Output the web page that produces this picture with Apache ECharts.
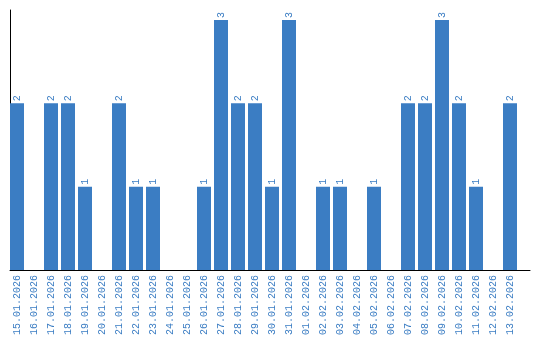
<!DOCTYPE html>
<html><head><meta charset="utf-8">
<script src="https://cdn.jsdelivr.net/npm/echarts@6/dist/echarts.min.js"></script>
<style>html,body{margin:0;padding:0;background:#fff}#c{width:540px;height:340px}</style>
</head><body><div id="c"></div>
<script>
const categories = ["15.01.2026","16.01.2026","17.01.2026","18.01.2026","19.01.2026","20.01.2026","21.01.2026","22.01.2026","23.01.2026","24.01.2026","25.01.2026","26.01.2026","27.01.2026","28.01.2026","29.01.2026","30.01.2026","31.01.2026","01.02.2026","02.02.2026","03.02.2026","04.02.2026","05.02.2026","06.02.2026","07.02.2026","08.02.2026","09.02.2026","10.02.2026","11.02.2026","12.02.2026","13.02.2026"];
const values = [2,0,2,2,1,0,2,1,1,0,0,1,3,2,2,1,3,0,1,1,0,1,0,2,2,3,2,1,0,2];
const yMax = 3.12;

const blue = '#3b7dc3';
const font = 'Liberation Mono';
const chart = echarts.init(document.getElementById('c'), null, {renderer:'canvas'});
chart.setOption({
  animation:false,
  grid:[
    {left:8.5, top:10, width:510, height:260},
    {left:10, top:10, right:10, height:260}
  ],
  xAxis:[
    {type:'category', gridIndex:0, data:categories,
     axisLine:{show:false}, axisTick:{show:false},
     axisLabel:{rotate:90, interval:0, color:blue, fontFamily:font, fontSize:10, margin:5}},
    {type:'value', gridIndex:1, min:0, max:1, axisLine:{show:true, onZero:false, lineStyle:{color:'#000', width:1}},
     axisTick:{show:false}, axisLabel:{show:false}, splitLine:{show:false}}
  ],
  yAxis:[
    {type:'value', gridIndex:0, min:0, max:yMax, offset:-1.5,
     axisLine:{show:true, lineStyle:{color:'#000', width:1}}, axisTick:{show:false}, axisLabel:{show:false}, splitLine:{show:false}},
    {type:'value', gridIndex:1, show:false}
  ],
  series:[{
    type:'bar', data:values, barWidth:14, itemStyle:{color:blue},
    label:{show:true, position:'top', rotate:90, align:'left', verticalAlign:'middle', distance:2,
      color:blue, fontFamily:font, fontSize:10,
      formatter:p=>p.value>0?String(p.value):''}
  }]
});
</script></body></html>
